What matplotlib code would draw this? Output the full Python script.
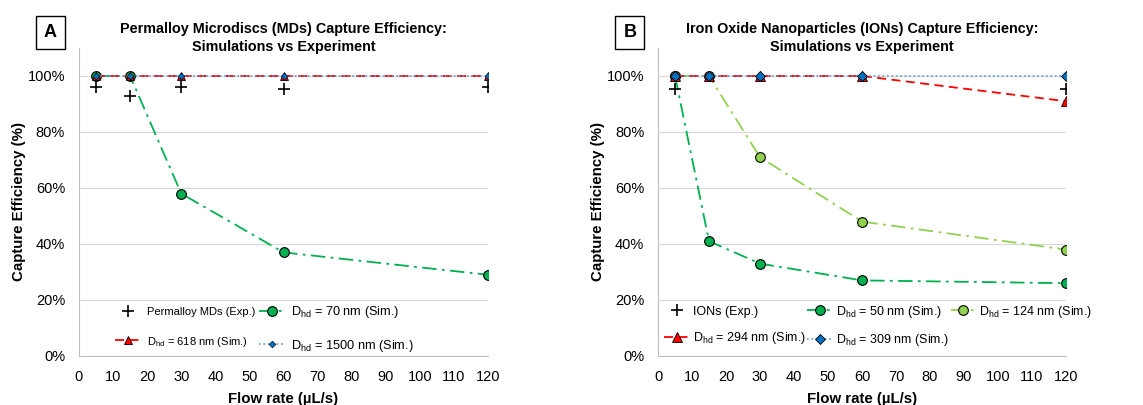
import matplotlib.pyplot as plt
from matplotlib.ticker import FuncFormatter, MultipleLocator

plt.rcParams['font.family'] = ['Liberation Sans', 'DejaVu Sans']
plt.rcParams['mathtext.default'] = 'regular'

# Panel A - Permalloy microdiscs
flow = [5, 15, 30, 60, 120]
md_exp = [96, 93, 96, 95.5, 96]
md_70 = [100, 100, 58, 37, 29]
md_618 = [100, 100, 100, 100, 100]
md_1500 = [100, 100, 100, 100, 100]

# Panel B - iron oxide nanoparticles
ion_exp_x = [5, 120]
ion_exp = [95.5, 95.5]
ion_50 = [100, 41, 33, 27, 26]
ion_124 = [100, 100, 71, 48, 38]
ion_294 = [100, 100, 100, 100, 91]
ion_309 = [100, 100, 100, 100, 100]

GREEN = '#00B050'
LGREEN = '#92D050'
RED = '#FF0000'
BLUE = '#0070C0'
LBLUE = '#5B9BD5'

fig = plt.figure(figsize=(11.43, 4.05), dpi=100)
axA = fig.add_axes([0.0691, 0.121, 0.3579, 0.7605])
axB = fig.add_axes([0.5757, 0.121, 0.3569, 0.7605])


def style_axis(ax, title):
    ax.set_xlim(0, 120)
    ax.set_ylim(0, 110)
    ax.xaxis.set_major_locator(MultipleLocator(10))
    ax.set_yticks([0, 20, 40, 60, 80, 100])
    ax.yaxis.set_major_formatter(FuncFormatter(lambda v, p: '%d%%' % v))
    ax.grid(axis='y', color='#D9D9D9', linewidth=0.9)
    ax.set_axisbelow(True)
    for s in ['top', 'right']:
        ax.spines[s].set_visible(False)
    for s in ['left', 'bottom']:
        ax.spines[s].set_color('#BFBFBF')
    ax.tick_params(length=0, labelsize=10.5)
    ax.tick_params(axis='x', pad=10)
    ax.tick_params(axis='y', pad=10)
    ax.set_xlabel('Flow rate (µL/s)', fontsize=10.8, fontweight='bold', labelpad=6)
    ax.set_ylabel('Capture Efficiency (%)', fontsize=10.8, fontweight='bold', labelpad=1)
    # explicit y so matplotlib doesn't push the title above the axes
    ax.set_title(title, fontsize=10.4, fontweight='bold', y=1.0, pad=-2.5, linespacing=1.45)


def dhd(n):
    return r'D$_{hd}$ = %s nm (Sim.)' % n


# ---- A ----
axA.plot(flow, md_exp, linestyle='none', marker='+', color='black', markersize=8,
         mew=1.2, label='Permalloy MDs (Exp.)', zorder=5)
axA.plot(flow, md_70, linestyle=(0, (8, 3, 1.5, 3)), color=GREEN, lw=1.3, marker='o',
         markersize=7, mfc=GREEN, mec='black', mew=0.8, label=dhd(70), zorder=3)
axA.plot(flow, md_618, linestyle=(0, (5, 3)), color=RED, lw=1.3, marker='^',
         markersize=6, mfc=RED, mec='black', mew=0.6, label=dhd(618), zorder=4)
axA.plot(flow, md_1500, linestyle=':', color=LBLUE, lw=1.2, marker='D',
         markersize=3.5, mfc=BLUE, mec='black', mew=0.4, label=dhd(1500), zorder=4)
style_axis(axA, 'Permalloy Microdiscs (MDs) Capture Efficiency:\nSimulations vs Experiment')
h, l = axA.get_legend_handles_labels()
order = [0, 2, 1, 3]
legA = axA.legend([h[i] for i in order], [l[i] for i in order], ncol=2, frameon=False,
                  loc='lower left', bbox_to_anchor=(0.073, -0.013), fontsize=9.2,
                  borderpad=0, handlelength=2.0, columnspacing=0.3,
                  labelspacing=1.35, handletextpad=0.5)
for t in legA.get_texts():
    if 'Exp' in t.get_text() or '618' in t.get_text():
        t.set_fontsize(8.0)

# ---- B ----
axB.plot(ion_exp_x, ion_exp, linestyle='none', marker='+', color='black', markersize=8,
         mew=1.2, label='IONs (Exp.)', zorder=6)
axB.plot(flow, ion_50, linestyle=(0, (8, 3, 1.5, 3)), color=GREEN, lw=1.3, marker='o',
         markersize=7, mfc=GREEN, mec='black', mew=0.8, label=dhd(50), zorder=3)
axB.plot(flow, ion_124, linestyle=(0, (8, 3, 1.5, 3)), color=LGREEN, lw=1.3, marker='o',
         markersize=7, mfc=LGREEN, mec='black', mew=0.8, label=dhd(124), zorder=3)
axB.plot(flow, ion_294, linestyle=(0, (5, 3)), color=RED, lw=1.3, marker='^',
         markersize=6.5, mfc=RED, mec='black', mew=0.6, label=dhd(294), zorder=4)
axB.plot(flow, ion_309, linestyle=':', color=LBLUE, lw=1.2, marker='D',
         markersize=5, mfc=BLUE, mec='black', mew=0.6, label=dhd(309), zorder=5)
style_axis(axB, 'Iron Oxide Nanoparticles (IONs) Capture Efficiency:\nSimulations vs Experiment')
h, l = axB.get_legend_handles_labels()
order = [0, 3, 1, 4, 2]
axB.legend([h[i] for i in order], [l[i] for i in order], ncol=3, frameon=False,
           loc='lower left', bbox_to_anchor=(0.0, 0.005), fontsize=9,
           borderpad=0, handlelength=2.0, columnspacing=0.1, labelspacing=1.0,
           handletextpad=0.3)

# panel letters
for x, letter in [(0.044, 'A'), (0.551, 'B')]:
    fig.text(x, 0.92, letter, fontsize=13, fontweight='bold', ha='center', va='center',
             bbox=dict(boxstyle='square,pad=0.45', fc='white', ec='black', lw=1.0))

fig.savefig('out.png', dpi=100)
